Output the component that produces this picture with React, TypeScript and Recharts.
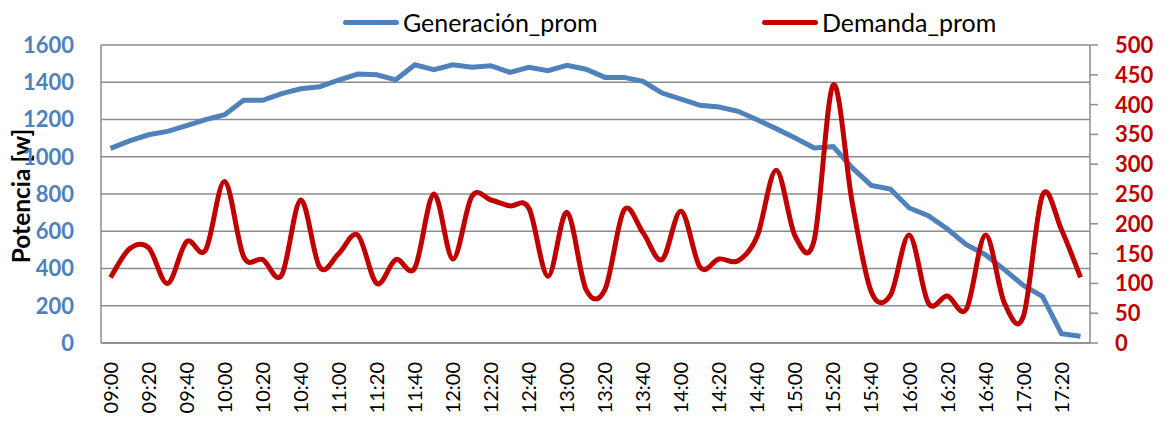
import React from 'react';
import { CartesianGrid, Line, LineChart, XAxis, YAxis } from 'recharts';

const TIMES = [
  '09:00', '09:10', '09:20', '09:30', '09:40', '09:50',
  '10:00', '10:10', '10:20', '10:30', '10:40', '10:50',
  '11:00', '11:10', '11:20', '11:30', '11:40', '11:50',
  '12:00', '12:10', '12:20', '12:30', '12:40', '12:50',
  '13:00', '13:10', '13:20', '13:30', '13:40', '13:50',
  '14:00', '14:10', '14:20', '14:30', '14:40', '14:50',
  '15:00', '15:10', '15:20', '15:30', '15:40', '15:50',
  '16:00', '16:10', '16:20', '16:30', '16:40', '16:50',
  '17:00', '17:10', '17:20', '17:30',
];

const GENERACION = [
  1045, 1085, 1118, 1136, 1167, 1199, 1226, 1303, 1303, 1339, 1365, 1376,
  1412, 1444, 1440, 1413, 1494, 1467, 1494, 1481, 1489, 1453, 1480, 1462,
  1491, 1470, 1426, 1426, 1405, 1342, 1310, 1276, 1267, 1244, 1199, 1151,
  1101, 1047, 1054, 940, 846, 827, 725, 684, 612, 528, 474, 394,
  309, 250, 50, 36,
];

const DEMANDA = [
  110, 158, 160, 100, 170, 156, 271, 145, 140, 114, 240, 127,
  150, 181, 100, 140, 126, 250, 141, 246, 240, 230, 226, 112,
  219, 90, 90, 223, 185, 140, 221, 127, 141, 138, 179, 290,
  179, 173, 433, 235, 86, 80, 181, 67, 79, 57, 181, 67,
  45, 248, 190, 110,
];

const LEFT_TICKS = [0, 200, 400, 600, 800, 1000, 1200, 1400, 1600];
const RIGHT_TICKS = [0, 50, 100, 150, 200, 250, 300, 350, 400, 450, 500];

const BLUE = '#4f81bd';
const RED = '#c00000';
const GRID = '#8c8c8c';
const FONT = 'Lato, "Open Sans", sans-serif';

const data = TIMES.map((t, i) => ({ t, gen: GENERACION[i], dem: DEMANDA[i] }));

// Excel-like smoothed line (Catmull-Rom through every point)
const excelSmooth = (context: any) => {
  let xs: number[] = [];
  let ys: number[] = [];
  return {
    areaStart() {},
    areaEnd() {},
    lineStart() { xs = []; ys = []; },
    point(x: number, y: number) { xs.push(+x); ys.push(+y); },
    lineEnd() {
      const n = xs.length;
      if (!n) return;
      context.moveTo(xs[0], ys[0]);
      for (let i = 0; i < n - 1; i++) {
        const i0 = Math.max(0, i - 1);
        const i3 = Math.min(n - 1, i + 2);
        context.bezierCurveTo(
          xs[i] + (xs[i + 1] - xs[i0]) / 6, ys[i] + (ys[i + 1] - ys[i0]) / 6,
          xs[i + 1] - (xs[i3] - xs[i]) / 6, ys[i + 1] - (ys[i3] - ys[i]) / 6,
          xs[i + 1], ys[i + 1],
        );
      }
    },
  };
};

function TimeTick({ x, y, payload }: any) {
  return (
    <g transform={`translate(${x},${y})`}>
      <text transform="rotate(-90)" x={-19} y={0} dy="0.36em" textAnchor="end"
        fontFamily={FONT} fontSize={20} fill="#000">
        {payload.value}
      </text>
    </g>
  );
}

function RightTick({ x, y, payload }: any) {
  return (
    <text x={x} y={y} dy="0.36em" textAnchor="start" fontFamily={FONT}
      fontSize={22} fontWeight={700} fill={RED}>
      {payload.value}
    </text>
  );
}

function AxisTitle() {
  return (
    <text x={30} y={196} transform="rotate(-90, 30, 196)" textAnchor="middle"
      fontFamily={FONT} fontSize={24.5} fontWeight={700} fill="#000">
      Potencia [w]
    </text>
  );
}

function LegendItem({ color, label, left }: { color: string; label: string; left: number }) {
  return (
    <div style={{ position: 'absolute', left, top: 6, display: 'flex', alignItems: 'center' }}>
      <span style={{ width: 56, height: 5, background: color, display: 'inline-block', borderRadius: 3 }} />
      <span style={{ marginLeft: 4, fontFamily: FONT, fontSize: 25, color: '#000', lineHeight: '32px' }}>{label}</span>
    </div>
  );
}

export default function App() {
  return (
    <div style={{ position: 'relative', width: 1168, height: 423, margin: -8, background: '#fff' }}>
      <LineChart width={1168} height={423} data={data} margin={{ top: 45, right: 0, bottom: 0, left: 0 }}>
        <CartesianGrid yAxisId="left" vertical={false} stroke={GRID} strokeWidth={1.5} />
        <XAxis
          dataKey="t"
          interval={1}
          height={80}
          padding={{ left: 9.5, right: 9.5 }}
          tickLine={false}
          tickSize={0}
          tickMargin={0}
          stroke={GRID}
          strokeWidth={1.5}
          tick={<TimeTick />}
        />
        <YAxis
          yAxisId="left"
          width={101}
          domain={[0, 1600]}
          ticks={LEFT_TICKS}
          tickLine={false}
          tickSize={0}
          tickMargin={27}
          stroke={GRID}
          strokeWidth={1.5}
          tick={{ fill: BLUE, fontSize: 22, fontWeight: 700, fontFamily: FONT }}
          label={<AxisTitle />}
        />
        <YAxis
          yAxisId="right"
          orientation="right"
          width={78}
          domain={[0, 500]}
          ticks={RIGHT_TICKS}
          tickSize={8}
          tickMargin={17}
          stroke={GRID}
          strokeWidth={1.5}
          tick={<RightTick />}
        />
        <Line yAxisId="left" dataKey="gen" stroke={BLUE} strokeWidth={5} dot={false}
          activeDot={false} type="linear" isAnimationActive={false} />
        <Line yAxisId="right" dataKey="dem" stroke={RED} strokeWidth={5} dot={false}
          activeDot={false} type={excelSmooth as any} isAnimationActive={false} />
      </LineChart>
      <LegendItem color={BLUE} label="Generación_prom" left={343} />
      <LegendItem color={RED} label="Demanda_prom" left={762} />
    </div>
  );
}
